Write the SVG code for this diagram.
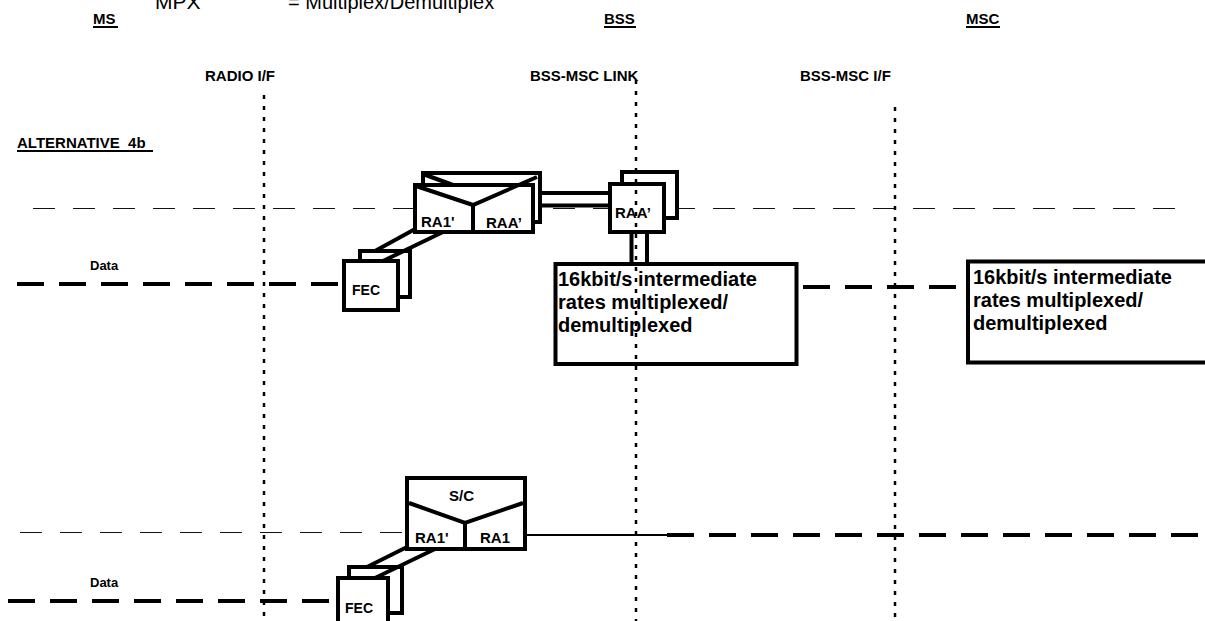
<svg xmlns="http://www.w3.org/2000/svg" width="1205" height="621" viewBox="0 0 1205 621">
<style>
text{font-family:"Liberation Sans",Arial,sans-serif;fill:#000}
.h{font-weight:bold;font-size:15px}
.lbl{font-weight:bold;font-size:15px}
.big{font-weight:bold;font-size:20px}
.data{font-weight:bold;font-size:13px}
.box{fill:#fff;stroke:#000;stroke-width:4}
.thick{stroke:#000;stroke-width:4;fill:none}
.thin{stroke:#111;stroke-width:1;stroke-dasharray:22 18;fill:none}
.tdash{stroke:#000;stroke-width:4;stroke-dasharray:27 15;fill:none}
.dot{stroke:#000;stroke-width:2.5;stroke-dasharray:4 7;fill:none}
.ul{stroke:#000;stroke-width:2}
</style>
<g id="legend">
<text x="155" y="9" style="font-size:21px">MPX</text>
<text x="288" y="9" style="font-size:20px">= Multiplex/Demultiplex</text>
</g>
<g id="headers">
<text x="93" y="24" class="h">MS</text><line class="ul" x1="93" y1="27" x2="118" y2="27"/>
<text x="604" y="24" class="h">BSS</text><line class="ul" x1="604" y1="27" x2="636" y2="27"/>
<text x="966" y="24" class="h">MSC</text><line class="ul" x1="966" y1="27" x2="1000" y2="27"/>
<text x="205" y="81" class="h">RADIO I/F</text>
<text x="530" y="81" class="h">BSS-MSC LINK</text>
<text x="800" y="81" class="h">BSS-MSC I/F</text>
<text x="17" y="148" class="h" xml:space="preserve">ALTERNATIVE  4b</text><line class="ul" x1="17" y1="151" x2="153" y2="151"/>
<text x="90" y="270" class="data">Data</text>
<text x="90" y="587" class="data">Data</text>
</g>
<g id="connectors">
<line class="thin" x1="33" y1="208.5" x2="1180" y2="208.5"/>
<line class="tdash" x1="17" y1="284" x2="344" y2="284"/>
<line class="tdash" x1="803" y1="287" x2="962" y2="287"/>
<line class="thin" x1="20" y1="532.5" x2="406" y2="532.5"/>
<line class="tdash" x1="8" y1="601" x2="337" y2="601"/>
<line stroke="#000" stroke-width="2" x1="525" y1="535" x2="667" y2="535"/>
<line class="tdash" x1="667" y1="535" x2="1200" y2="535"/>
<line class="thick" stroke-width="5" x1="540" y1="193" x2="611" y2="193"/>
<line class="thick" stroke-width="5" x1="540" y1="205.5" x2="611" y2="205.5"/>
<line class="thick" stroke-width="6" x1="631.5" y1="231" x2="631.5" y2="263"/>
<line class="thick" stroke-width="6" x1="647" y1="231" x2="647" y2="263"/>
</g>
<g id="fec-upper">
<rect class="box" x="360" y="251" width="50" height="46"/>
<line class="thick" x1="417" y1="228" x2="375" y2="251"/>
<line class="thick" x1="443" y1="232" x2="383" y2="261"/>
<rect class="box" x="344" y="261" width="54" height="49"/>
<text x="352" y="295" class="lbl" style="font-size:14px">FEC</text>
</g>
<g id="ra-node-upper">
<rect class="box" x="423" y="173" width="117" height="49"/>
<line class="thick" x1="423" y1="174" x2="453" y2="185"/>
<rect class="box" x="415" y="185" width="118" height="47"/>
<polyline class="thick" points="416,186 473,205 537,177"/>
<line class="thick" x1="473" y1="205" x2="473" y2="232"/>
<text x="421" y="227" class="lbl">RA1'</text>
<text x="486" y="228" class="lbl">RAA’</text>
</g>
<g id="raa-node">
<rect class="box" x="622" y="172" width="55" height="46"/>
<rect class="box" x="610" y="184" width="54" height="48"/>
<text x="615" y="218" class="lbl">RAA’</text>
</g>
<g id="mux-bss">
<rect class="box" stroke-width="5" x="555.5" y="264" width="241" height="100"/>
<text class="big" x="558" y="286">16kbit/s intermediate</text>
<text class="big" x="558" y="309">rates multiplexed/</text>
<text class="big" x="558" y="332">demultiplexed</text>
</g>
<g id="mux-msc">
<rect class="box" stroke-width="5" x="968" y="261.5" width="250" height="101"/>
<text class="big" x="973" y="284">16kbit/s intermediate</text>
<text class="big" x="973" y="307">rates multiplexed/</text>
<text class="big" x="973" y="330">demultiplexed</text>
</g>
<g id="fec-lower">
<rect class="box" x="349" y="567" width="53" height="46"/>
<line class="thick" x1="407" y1="547" x2="367" y2="567"/>
<line class="thick" x1="435" y1="549" x2="375" y2="578"/>
<rect class="box" x="338" y="578" width="50" height="52"/>
<text x="345" y="613" class="lbl" style="font-size:14px">FEC</text>
</g>
<g id="sc-node-lower">
<rect class="box" x="407" y="478" width="118" height="71"/>
<polyline class="thick" points="409,503 465,523 523,503"/>
<line class="thick" x1="465" y1="523" x2="465" y2="549"/>
<text x="449" y="501" class="lbl">S/C</text>
<text x="415" y="543" class="lbl">RA1'</text>
<text x="480" y="543" class="lbl">RA1</text>
</g>
<g id="interfaces">
<line class="dot" x1="264" y1="95" x2="264" y2="621"/>
<line class="dot" x1="636" y1="80" x2="636" y2="621"/>
<line class="dot" x1="895" y1="107" x2="895" y2="621"/>
</g>
</svg>
